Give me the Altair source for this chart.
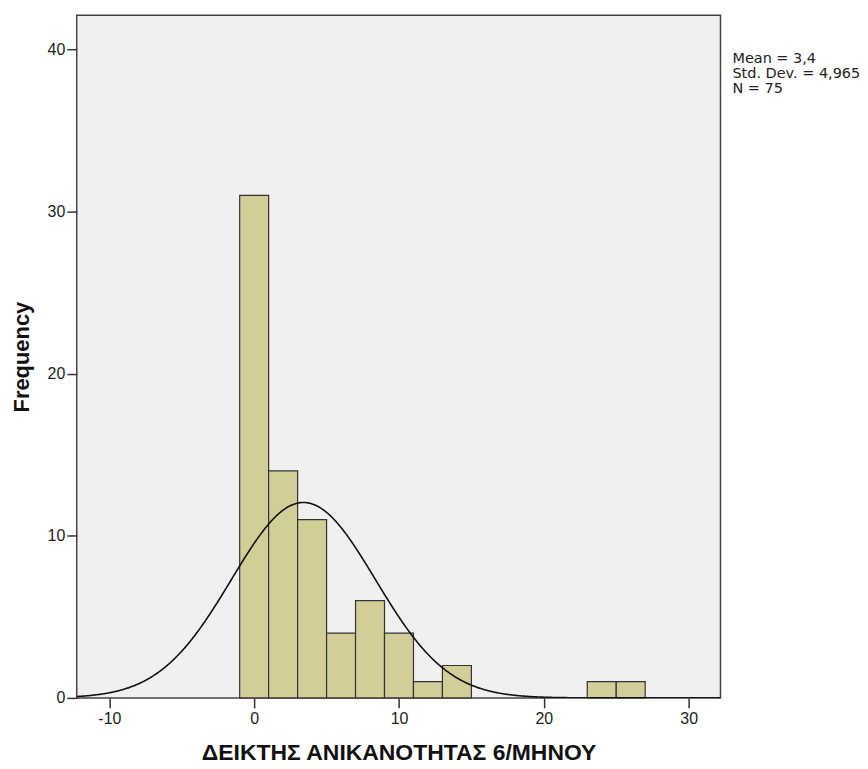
import altair as alt
import pandas as pd

# Histogram data (bin width 2)
bin_starts = [-1, 1, 3, 5, 7, 9, 11, 13, 23, 25]
bin_ends = [1, 3, 5, 7, 9, 11, 13, 15, 25, 27]
counts = [31, 14, 11, 4, 6, 4, 1, 2, 1, 1]

# Summary statistics shown on the chart
mean_val = 3.4
sd_val = 4.965
n_val = 75
bin_width = 2
stats_lines = ["Mean = 3,4", "Std. Dev. = 4,965", "N = 75"]

x_ticks = [-10, 0, 10, 20, 30]
y_ticks = [0, 10, 20, 30, 40]
x_domain = [-12.25, 32.2]
y_domain = [0, 42.1]

hist = pd.DataFrame({"start": bin_starts, "end": bin_ends, "count": counts})

FONT = "Liberation Sans"

xscale = alt.Scale(domain=x_domain, nice=False, zero=False)
yscale = alt.Scale(domain=y_domain, nice=False)

xaxis = alt.Axis(values=x_ticks, title="ΔΕΙΚΤΗΣ ΑΝΙΚΑΝΟΤΗΤΑΣ 6/ΜΗΝΟΥ", grid=False,
                 domain=False, tickColor="#333333", tickSize=10, tickWidth=1.5,
                 labelExpr="'' + datum.value",
                 labelFont=FONT, labelFontSize=16, labelColor="#222222", labelPadding=3,
                 titleFont=FONT, titleFontSize=23, titleFontWeight="bold",
                 titleColor="#111111", titlePadding=15)
yaxis = alt.Axis(values=y_ticks, title="Frequency", grid=False, domain=False,
                 tickColor="#333333", tickSize=10, tickWidth=1.5,
                 labelExpr="'' + datum.value",
                 labelFont=FONT, labelFontSize=16, labelColor="#222222", labelPadding=2,
                 titleFont=FONT, titleFontSize=22, titleFontWeight="bold",
                 titleColor="#111111", titlePadding=14)

bars = alt.Chart(hist).mark_rect(fill="#D3CE97", stroke="#333333", strokeWidth=1.2).encode(
    x=alt.X("start:Q", scale=xscale, axis=xaxis),
    x2="end:Q",
    y=alt.Y("count:Q", scale=yscale, axis=yaxis),
    y2=alt.datum(0),
)

curve = alt.Chart(alt.sequence(x_domain[0], x_domain[1] + 0.05, 0.05, as_="x")).transform_calculate(
    y=f"{n_val}*{bin_width}/({sd_val}*sqrt(2*PI))*exp(-0.5*pow((datum.x-{mean_val})/{sd_val},2))"
).mark_line(color="#111111", strokeWidth=1.6, clip=True).encode(
    x=alt.X("x:Q", scale=xscale),
    y=alt.Y("y:Q", scale=yscale),
)

stats = alt.Chart(pd.DataFrame({"t": ["\n".join(stats_lines)]})).mark_text(
    align="left", baseline="alphabetic", font="DejaVu Sans", fontSize=14.5, color="#222222",
    lineBreak="\n", lineHeight=15,
).encode(text="t:N", x=alt.value(658), y=alt.value(48))

chart = alt.layer(bars, curve, stats).properties(
    width=646, height=685,
    autosize=alt.AutoSizeParams(type="none"),
    padding={"left": 69, "top": 6, "right": 140, "bottom": 68},
    background="white",
).configure_view(fill="#F0F0F0", stroke="#444444", strokeWidth=1.5)

chart.save("out.html", embed_options={"renderer": "svg", "actions": False})
